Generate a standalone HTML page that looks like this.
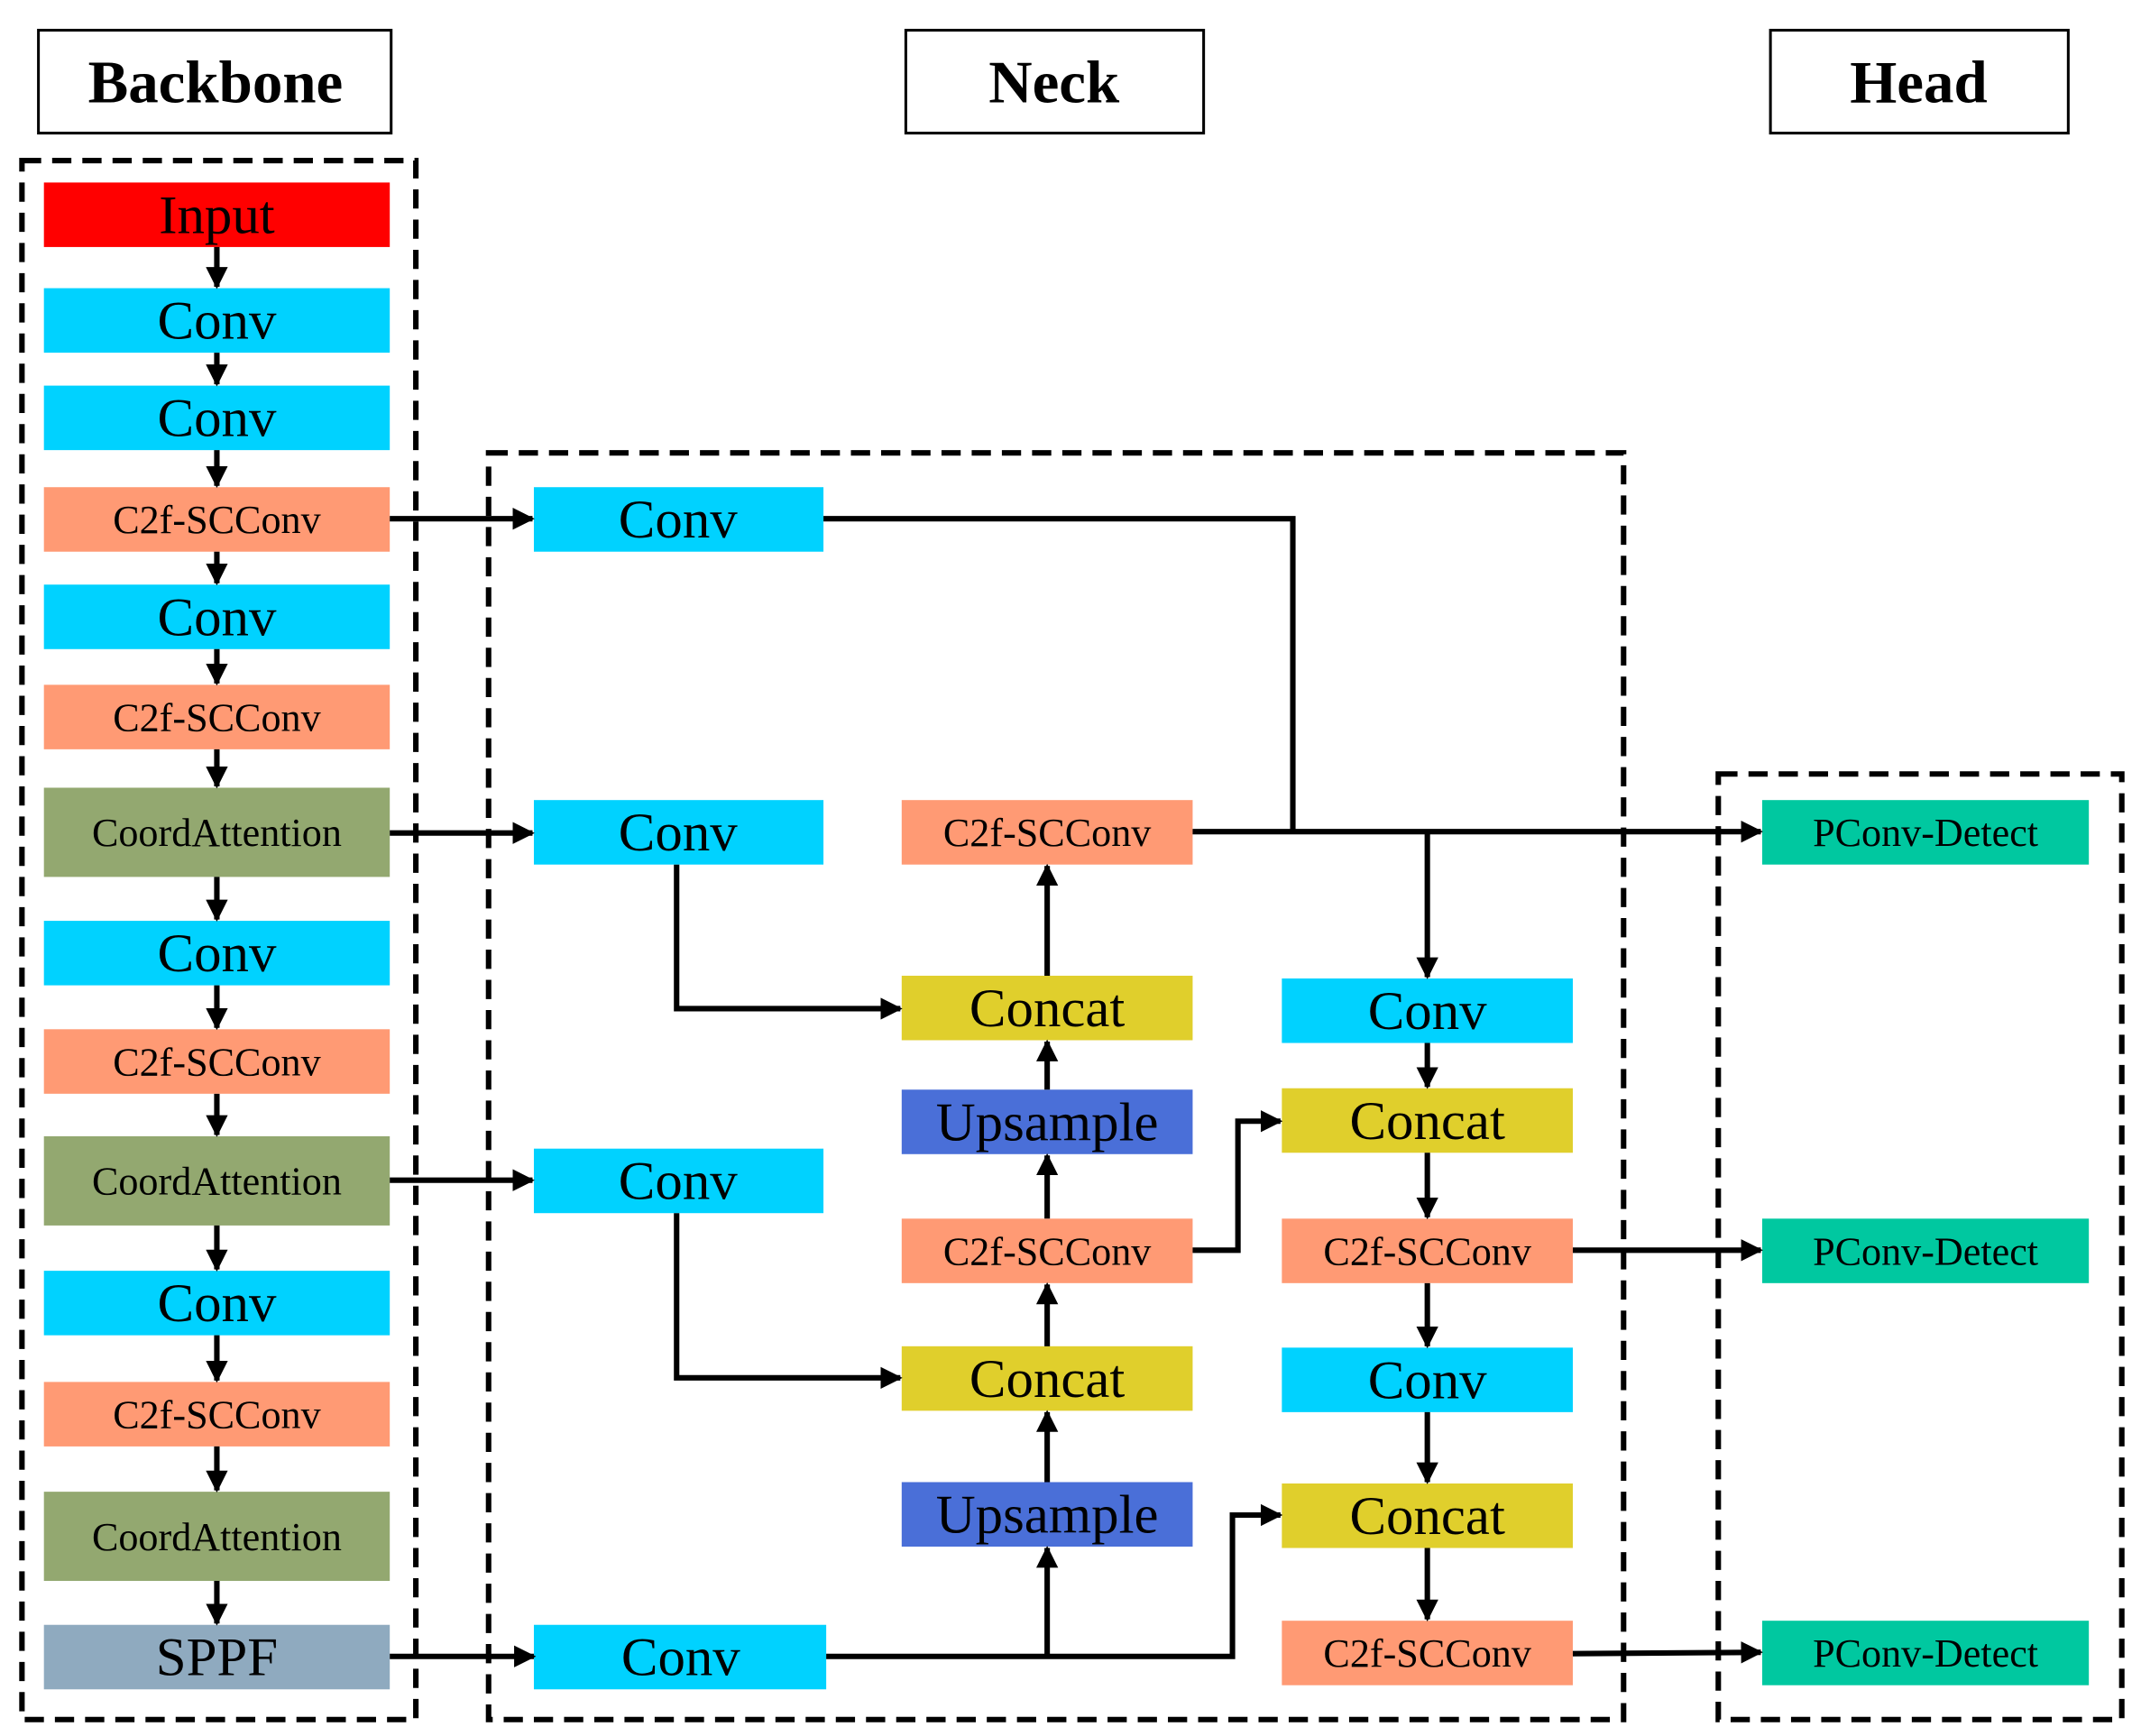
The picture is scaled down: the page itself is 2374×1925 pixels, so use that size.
<!DOCTYPE html>
<html><head><meta charset="utf-8"><style>
html,body{margin:0;padding:0;background:#fff;}
svg{display:block;}
text{font-family:"Liberation Serif",serif;text-anchor:middle;dominant-baseline:central;fill:#000;}
</style></head><body>
<svg width="2374" height="1925" viewBox="0 0 1560 1265" preserveAspectRatio="none" xmlns="http://www.w3.org/2000/svg">
<defs><marker id="a" viewBox="0 0 10 10" refX="9" refY="5" markerWidth="5" markerHeight="5" orient="auto" markerUnits="userSpaceOnUse"><path d="M0,0L10,5L0,10z" fill="#000"/></marker>
<marker id="b" viewBox="0 0 10 10" refX="9" refY="5" markerWidth="16" markerHeight="16" orient="auto" markerUnits="userSpaceOnUse"><path d="M0,0L10,5L0,10z" fill="#000"/></marker></defs>
<!-- headers -->
<g fill="#fff" stroke="#000" stroke-width="2">
<rect x="28" y="22" width="257" height="75"/><rect x="660" y="22" width="217" height="75"/><rect x="1290" y="22" width="217" height="75"/></g>
<g font-weight="bold" font-size="44"><text x="157" y="60">Backbone</text><text x="768" y="60">Neck</text><text x="1398" y="60">Head</text></g>
<!-- dashed -->
<g fill="none" stroke="#000" stroke-width="4" stroke-dasharray="14 8">
<rect x="16" y="117" width="287" height="1136"/><rect x="356" y="330" width="827" height="923"/><rect x="1252" y="564" width="294" height="689"/></g>
<!-- backbone nodes -->
<g>
<rect x="32" y="133" width="252" height="47" fill="#FF0000"/>
<rect x="32" y="210" width="252" height="47" fill="#00D2FF"/>
<rect x="32" y="281" width="252" height="47" fill="#00D2FF"/>
<rect x="32" y="355" width="252" height="47" fill="#FF9A74"/>
<rect x="32" y="426" width="252" height="47" fill="#00D2FF"/>
<rect x="32" y="499" width="252" height="47" fill="#FF9A74"/>
<rect x="32" y="574" width="252" height="65" fill="#93A870"/>
<rect x="32" y="671" width="252" height="47" fill="#00D2FF"/>
<rect x="32" y="750" width="252" height="47" fill="#FF9A74"/>
<rect x="32" y="828" width="252" height="65" fill="#93A870"/>
<rect x="32" y="926" width="252" height="47" fill="#00D2FF"/>
<rect x="32" y="1007" width="252" height="47" fill="#FF9A74"/>
<rect x="32" y="1087" width="252" height="65" fill="#93A870"/>
<rect x="32" y="1184" width="252" height="47" fill="#8FAABF"/>
</g>
<g font-size="40">
<text x="158" y="157">Input</text><text x="158" y="234">Conv</text><text x="158" y="305">Conv</text>
<text x="158" y="450">Conv</text><text x="158" y="695">Conv</text><text x="158" y="950">Conv</text><text x="158" y="1208">SPPF</text>
</g>
<g font-size="29">
<text x="158" y="379">C2f-SCConv</text><text x="158" y="523">C2f-SCConv</text><text x="158" y="774">C2f-SCConv</text><text x="158" y="1031">C2f-SCConv</text>
<text x="158" y="607">CoordAttention</text><text x="158" y="861">CoordAttention</text><text x="158" y="1120">CoordAttention</text>
</g>
<!-- neck nodes -->
<g>
<rect x="389" y="355" width="211" height="47" fill="#00D2FF"/>
<rect x="389" y="583" width="211" height="47" fill="#00D2FF"/>
<rect x="389" y="837" width="211" height="47" fill="#00D2FF"/>
<rect x="389" y="1184" width="213" height="47" fill="#00D2FF"/>
<rect x="657" y="583" width="212" height="47" fill="#FF9A74"/>
<rect x="657" y="711" width="212" height="47" fill="#E0CF2C"/>
<rect x="657" y="794" width="212" height="47" fill="#4A6FD8"/>
<rect x="657" y="888" width="212" height="47" fill="#FF9A74"/>
<rect x="657" y="981" width="212" height="47" fill="#E0CF2C"/>
<rect x="657" y="1080" width="212" height="47" fill="#4A6FD8"/>
<rect x="934" y="713" width="212" height="47" fill="#00D2FF"/>
<rect x="934" y="793" width="212" height="47" fill="#E0CF2C"/>
<rect x="934" y="888" width="212" height="47" fill="#FF9A74"/>
<rect x="934" y="982" width="212" height="47" fill="#00D2FF"/>
<rect x="934" y="1081" width="212" height="47" fill="#E0CF2C"/>
<rect x="934" y="1181" width="212" height="47" fill="#FF9A74"/>
<rect x="1284" y="583" width="238" height="47" fill="#00C8A0"/>
<rect x="1284" y="888" width="238" height="47" fill="#00C8A0"/>
<rect x="1284" y="1181" width="238" height="47" fill="#00C8A0"/>
</g>
<g font-size="40">
<text x="494" y="379">Conv</text><text x="494" y="607">Conv</text><text x="494" y="861">Conv</text><text x="496" y="1208">Conv</text>
<text x="763" y="735">Concat</text><text x="763" y="818">Upsample</text><text x="763" y="1005">Concat</text><text x="763" y="1104">Upsample</text>
<text x="1040" y="737">Conv</text><text x="1040" y="817">Concat</text><text x="1040" y="1006">Conv</text><text x="1040" y="1105">Concat</text>
</g>
<g font-size="29">
<text x="763" y="607">C2f-SCConv</text><text x="763" y="912">C2f-SCConv</text>
<text x="1040" y="912">C2f-SCConv</text><text x="1040" y="1205">C2f-SCConv</text>
<text x="1403" y="607">PConv-Detect</text><text x="1403" y="912">PConv-Detect</text><text x="1403" y="1205">PConv-Detect</text>
</g>
<!-- connectors -->
<g fill="none" stroke="#000" stroke-width="4" marker-end="url(#b)">
<path d="M158 180V209"/><path d="M158 257V280"/><path d="M158 328V354"/><path d="M158 402V425"/>
<path d="M158 473V498"/><path d="M158 546V573"/><path d="M158 639V670"/><path d="M158 718V749"/>
<path d="M158 797V827"/><path d="M158 893V925"/><path d="M158 973V1006"/><path d="M158 1054V1086"/><path d="M158 1152V1183"/>
<path d="M284 378H388"/><path d="M284 607H388"/><path d="M284 860H388"/><path d="M284 1207H389"/>
<path d="M869 606H1283"/>
<path d="M1040 606V712"/>
<path d="M493 630V735H656"/>
<path d="M493 884V1004H656"/>
<path d="M763 711V631"/><path d="M763 794V759"/><path d="M763 888V842"/><path d="M763 981V936"/><path d="M763 1080V1029"/>
<path d="M763 1207V1128"/>
<path d="M602 1207H898V1104H933"/>
<path d="M869 911H902V817H933"/>
<path d="M1040 760V792"/><path d="M1040 840V887"/><path d="M1040 935V981"/><path d="M1040 1029V1080"/><path d="M1040 1128V1180"/>
<path d="M1146 911H1283"/><path d="M1146 1205L1283 1204"/>
</g>
<path d="M600 378H942V606" fill="none" stroke="#000" stroke-width="4"/>
</svg>
</body></html>
